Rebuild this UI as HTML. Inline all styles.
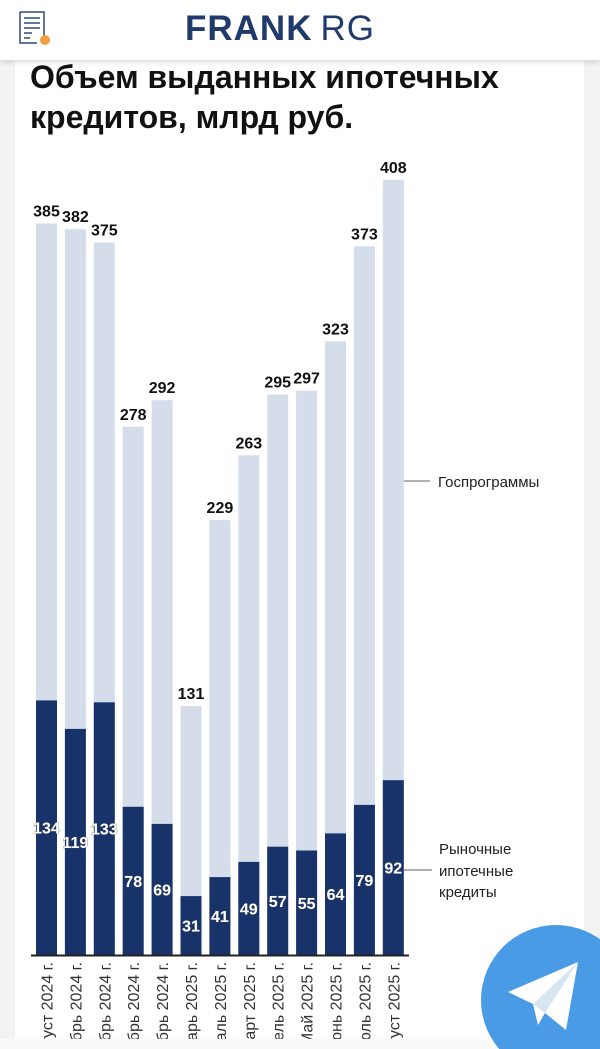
<!DOCTYPE html>
<html><head><meta charset="utf-8"><style>
html,body{margin:0;padding:0;background:#f3f3f3;}
body{width:600px;height:1049px;overflow:hidden;position:relative;font-family:"Liberation Sans",sans-serif;}
</style></head><body>
<svg width="600" height="1049" viewBox="0 0 600 1049" xmlns="http://www.w3.org/2000/svg" style="position:absolute;left:0;top:0">
<defs><filter id="sh" x="-10%" y="-50%" width="120%" height="200%"><feDropShadow dx="0" dy="2" stdDeviation="3" flood-color="#000" flood-opacity="0.15"/></filter></defs>
<rect x="0" y="0" width="600" height="1049" fill="#f3f3f3"/>
<rect x="15" y="60" width="569" height="979" fill="#fff"/>
<g font-family="Liberation Sans, sans-serif">
<text x="30" y="88" font-size="32" font-weight="bold" fill="#111">Объем выданных ипотечных</text>
<text x="30" y="128" font-size="32" font-weight="bold" fill="#111">кредитов, млрд руб.</text>
</g>
<g id="bars" font-family="Liberation Sans, sans-serif"></g>
<rect x="0" y="1039" width="600" height="10" fill="#fafafa"/>
<line x1="31" y1="955.5" x2="409" y2="955.5" stroke="#222" stroke-width="2"/>
<line x1="404" y1="481" x2="430" y2="481" stroke="#999" stroke-width="1.5"/>
<text x="438" y="487" font-size="15" fill="#222" font-family="Liberation Sans, sans-serif">Госпрограммы</text>
<line x1="404" y1="870" x2="432" y2="870" stroke="#999" stroke-width="1.5"/>
<g font-size="15" fill="#222" font-family="Liberation Sans, sans-serif">
<text x="439" y="854">Рыночные</text><text x="439" y="876">ипотечные</text><text x="439" y="897">кредиты</text></g>
<circle cx="556" cy="1000" r="75" fill="#4a9be6"/>
<path d="M508 992 L578 962 L566 1030 L545 1013 L538 1025 L533 1004 Z" fill="#fff"/>
<path d="M533 1004 L578 962 L545 1013 Z" fill="#d8e6f2"/>
<rect x="0" y="0" width="600" height="60" fill="#fff" filter="url(#sh)"/>
<g fill="none" stroke="#2a4a7a" stroke-width="1.5"><path d="M20 12 H44 V36 M20 12 V43 H37"/></g>
<g stroke="#2a4a7a" stroke-width="1.5"><line x1="24" y1="18" x2="40" y2="18"/><line x1="24" y1="23" x2="40" y2="23"/><line x1="24" y1="28" x2="40" y2="28"/><line x1="24" y1="33" x2="32" y2="33"/><line x1="24" y1="38" x2="30" y2="38"/></g>
<circle cx="45" cy="40" r="5" fill="#f0a040"/>
<text x="185" y="40" font-size="35" fill="#1f3a6b" font-family="Liberation Sans, sans-serif"><tspan font-weight="bold" letter-spacing="1">FRANK</tspan><tspan dx="8" letter-spacing="1">RG</tspan></text>
</svg>
<script>
var tot=[385,382,375,278,292,131,229,263,295,297,323,373,408];
var mk=[134,119,133,78,69,31,41,49,57,55,64,79,92];
var lb=["Август 2024 г.","Сентябрь 2024 г.","Октябрь 2024 г.","Ноябрь 2024 г.","Декабрь 2024 г.","Январь 2025 г.","Февраль 2025 г.","Март 2025 г.","Апрель 2025 г.","Май 2025 г.","Июнь 2025 г.","Июль 2025 г.","Август 2025 г."];
var g=document.getElementById('bars'),s='',B=955,k=1.9;
for(var i=0;i<13;i++){var x=36+i*28.9,c=x+10.5,ty=B-tot[i]*k,my=B-mk[i]*k;
s+='<rect x="'+x+'" y="'+ty+'" width="21" height="'+(B-ty)+'" fill="#d5ddeb"/>';
s+='<rect x="'+x+'" y="'+my+'" width="21" height="'+(B-my)+'" fill="#17336a"/>';
s+='<text x="'+c+'" y="'+(ty-7)+'" font-size="16" font-weight="bold" text-anchor="middle" fill="#111">'+tot[i]+'</text>';
s+='<text x="'+c+'" y="'+((my+B)/2+6)+'" font-size="16" font-weight="bold" text-anchor="middle" fill="#fff" stroke="#555" stroke-width="0.6" paint-order="stroke">'+mk[i]+'</text>';
s+='<text transform="translate('+(c+6)+',962) rotate(-90)" font-size="16" text-anchor="end" fill="#333">'+lb[i]+'</text>';}
g.innerHTML=s;
</script>
</body></html>
